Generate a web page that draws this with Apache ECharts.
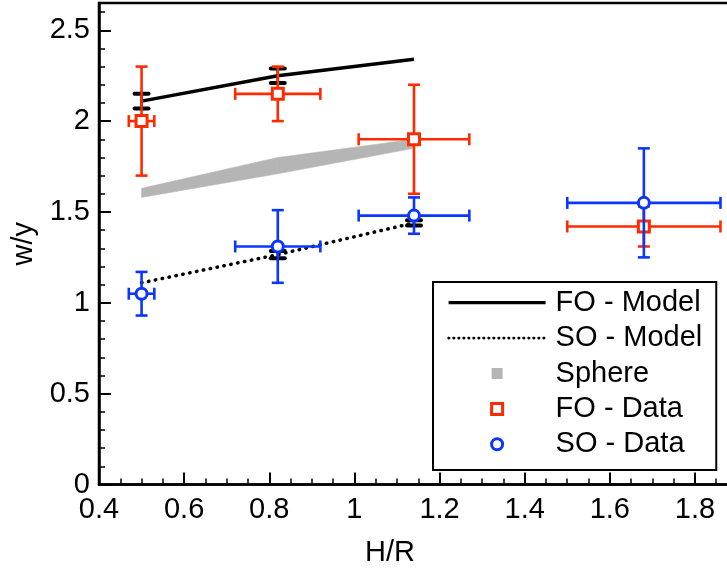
<!DOCTYPE html>
<html>
<head>
<meta charset="utf-8">
<script src="https://cdn.jsdelivr.net/npm/echarts@6/dist/echarts.min.js"></script>
<style>
  html, body { margin: 0; padding: 0; background: #fff; }
  #chart { width: 727px; height: 569px; }
</style>
</head>
<body>
<div id="chart"></div>
<script>
'use strict';
// model curves, sampled at the three H/R values
const hr = [0.5, 0.82, 1.14];
const foModel = [2.11, 2.25, 2.34];
const soModel = [1.11, 1.265, 1.44];
const sphereLo = [1.58, 1.71, 1.85];
const sphereHi = [1.63, 1.80, 1.90];

// small error marks on the model curves
const foModelErrX = [0.5, 0.82];
const foModelErrLo = [2.07, 2.21];
const foModelErrHi = [2.15, 2.29];
const soModelErrX = [0.82, 1.14];
const soModelErrLo = [1.245, 1.425];
const soModelErrHi = [1.285, 1.455];

// measurements
const dataX = [0.5, 0.82, 1.14, 1.68];
const dataXErr = [0.03, 0.1, 0.13, 0.18];
const foData = [2.0, 2.15, 1.9, 1.42];
const foLo = [1.7, 2.0, 1.6, 1.31];
const foHi = [2.3, 2.3, 2.2, 1.53];
const soData = [1.05, 1.31, 1.48, 1.55];
const soLo = [0.93, 1.11, 1.38, 1.25];
const soHi = [1.17, 1.51, 1.58, 1.85];

const xTicks = { min: 0.4, max: 1.88, major: 0.2, minor: 0.05 };
const yTicks = { min: 0, max: 2.65, major: 0.5, minor: 0.1 };

const RED = '#ff2a00';
const BLUE = '#0a36ff';
const GRAY = '#b5b5b5';
const FONT = 'Liberation Sans, Arial, Helvetica, sans-serif';
const FS = 29;

const chart = echarts.init(document.getElementById('chart'));

function errorBars(color) {
  return function (params, api) {
    const x = api.value(0);
    const y = api.value(1);
    const c = api.coord([x, y]);
    const l = api.coord([api.value(2), y]);
    const r = api.coord([api.value(3), y]);
    const lo = api.coord([x, api.value(4)]);
    const hi = api.coord([x, api.value(5)]);
    const w = 6;
    const style = { stroke: color, lineWidth: 2.6 };
    const seg = (x1, y1, x2, y2) => ({ type: 'line', shape: { x1, y1, x2, y2 }, style });
    return {
      type: 'group',
      children: [
        seg(l[0], c[1], r[0], c[1]),
        seg(l[0], c[1] - w, l[0], c[1] + w),
        seg(r[0], c[1] - w, r[0], c[1] + w),
        seg(c[0], lo[1], c[0], hi[1]),
        seg(c[0] - w, lo[1], c[0] + w, lo[1]),
        seg(c[0] - w, hi[1], c[0] + w, hi[1]),
      ],
    };
  };
}

function modelCaps(params, api) {
  const x = api.value(0);
  const lo = api.coord([x, api.value(1)]);
  const hi = api.coord([x, api.value(2)]);
  const w = 7;
  const cap = { stroke: '#000', lineWidth: 4, lineCap: 'round' };
  return {
    type: 'group',
    children: [
      { type: 'line', shape: { x1: lo[0], y1: lo[1], x2: hi[0], y2: hi[1] }, style: { stroke: '#000', lineWidth: 2.5 } },
      { type: 'line', shape: { x1: lo[0] - w, y1: lo[1], x2: lo[0] + w, y2: lo[1] }, style: cap },
      { type: 'line', shape: { x1: hi[0] - w, y1: hi[1], x2: hi[0] + w, y2: hi[1] }, style: cap },
    ],
  };
}

function sphereBand(params, api) {
  const i = params.dataIndex;
  if (i >= hr.length - 1) return null;
  const pts = [
    api.coord([hr[i], sphereHi[i]]),
    api.coord([hr[i + 1], sphereHi[i + 1]]),
    api.coord([hr[i + 1], sphereLo[i + 1]]),
    api.coord([hr[i], sphereLo[i]]),
  ];
  return {
    type: 'polygon',
    shape: { points: pts },
    style: { fill: GRAY, stroke: GRAY, lineWidth: 0.5 },
  };
}

const errRows = (vals, lo, hi) =>
  dataX.map((x, i) => [x, vals[i], x - dataXErr[i], x + dataXErr[i], lo[i], hi[i]]);

const axisCommon = {
  type: 'value',
  splitLine: { show: false },
  axisLine: { show: true, onZero: false, lineStyle: { color: '#000', width: 2.5 } },
  axisTick: { show: true, inside: true, length: 12, lineStyle: { color: '#000', width: 2 } },
  axisLabel: { color: '#000', fontSize: FS, fontFamily: FONT, showMaxLabel: false },
  nameLocation: 'middle',
  nameTextStyle: { color: '#000', fontSize: FS, fontFamily: FONT },
};
const minorAxis = {
  type: 'value',
  splitLine: { show: false },
  axisLine: { show: false },
  axisLabel: { show: false },
  axisTick: { show: true, inside: true, length: 6, lineStyle: { color: '#000', width: 1.5 } },
};

const hideSymbol = { color: 'rgba(0,0,0,0)', borderWidth: 0, opacity: 0 };

const option = {
  animation: false,
  backgroundColor: '#fff',
  grid: {
    left: 99, right: -2, top: 3, bottom: 84.5,
    outerBoundsMode: 'none',
    show: true, borderColor: '#000', borderWidth: 2.5,
  },
  xAxis: [
    Object.assign({}, axisCommon, {
      min: xTicks.min, max: xTicks.max, interval: xTicks.major,
      position: 'bottom', name: 'H/R', nameGap: 54,
      nameTextStyle: Object.assign({}, axisCommon.nameTextStyle, { padding: [0, 48, 0, 0] }),
      axisLabel: Object.assign({}, axisCommon.axisLabel, { margin: 11 }),
    }),
    Object.assign({}, minorAxis, {
      min: xTicks.min, max: xTicks.max, interval: xTicks.minor, position: 'bottom',
    }),
  ],
  yAxis: [
    Object.assign({}, axisCommon, {
      min: yTicks.min, max: yTicks.max, interval: yTicks.major,
      position: 'left', name: 'w/y', nameGap: 58,
      axisLabel: Object.assign({}, axisCommon.axisLabel, { margin: 9 }),
    }),
    Object.assign({}, minorAxis, {
      min: yTicks.min, max: yTicks.max, interval: yTicks.minor, position: 'left', offset: 0,
    }),
  ],
  legend: {
    orient: 'vertical',
    left: 433, top: 282,
    padding: [3, 14, 8, 14],
    backgroundColor: '#fff',
    borderColor: '#000', borderWidth: 2, borderRadius: 0,
    itemWidth: 97, itemHeight: 11, itemGap: 0,
    symbolKeepAspect: true,
    selectedMode: false,
    textStyle: { color: '#000', fontSize: FS, fontFamily: FONT, lineHeight: 35.4, padding: [0, 0, 0, 5] },
    data: [
      { name: 'FO - Model', itemStyle: hideSymbol, lineStyle: { width: 3.2 } },
      { name: 'SO - Model', itemStyle: hideSymbol, lineStyle: { width: 2.6, type: [0.5, 4.5], cap: 'round' } },
      { name: 'Sphere', icon: 'path://M0,0H10V10H0Z', itemStyle: { color: GRAY, borderWidth: 0 } },
      { name: 'FO - Data', icon: 'path://M0,0H10V10H0Z', itemStyle: { color: '#fff', borderColor: RED, borderWidth: 3 } },
      { name: 'SO - Data', icon: 'path://M10,5A5,5,0,1,1,0,5A5,5,0,1,1,10,5Z', itemStyle: { color: '#fff', borderColor: BLUE, borderWidth: 3 } },
    ],
  },
  series: [
    {
      name: 'Sphere', type: 'custom', z: 1,
      renderItem: sphereBand,
      itemStyle: { color: GRAY },
      data: hr.map((x, i) => [x, sphereLo[i], sphereHi[i]]),
    },
    {
      name: 'FO - Model', type: 'line', z: 2, symbol: 'none',
      itemStyle: { color: '#000' },
      lineStyle: { color: '#000', width: 3.5 },
      data: hr.map((x, i) => [x, foModel[i]]),
    },
    {
      name: 'SO - Model', type: 'line', z: 2, symbol: 'none',
      itemStyle: { color: '#000' },
      lineStyle: { color: '#000', width: 3.5, type: [0.5, 6.5], cap: 'round' },
      data: hr.map((x, i) => [x, soModel[i]]),
    },
    {
      type: 'custom', z: 2, renderItem: modelCaps,
      data: foModelErrX.map((x, i) => [x, foModelErrLo[i], foModelErrHi[i]])
        .concat(soModelErrX.map((x, i) => [x, soModelErrLo[i], soModelErrHi[i]])),
    },
    {
      type: 'custom', z: 3, renderItem: errorBars(RED),
      data: errRows(foData, foLo, foHi),
    },
    {
      name: 'FO - Data', type: 'scatter', z: 4,
      symbol: 'rect', symbolSize: 11,
      itemStyle: { color: '#fff', borderColor: RED, borderWidth: 3, opacity: 1 },
      data: dataX.map((x, i) => [x, foData[i]]),
    },
    {
      type: 'custom', z: 5, renderItem: errorBars(BLUE),
      data: errRows(soData, soLo, soHi),
    },
    {
      name: 'SO - Data', type: 'scatter', z: 6,
      symbol: 'circle', symbolSize: 11,
      itemStyle: { color: '#fff', borderColor: BLUE, borderWidth: 3, opacity: 1 },
      data: dataX.map((x, i) => [x, soData[i]]),
    },
  ],
};

chart.setOption(option);
</script>
</body>
</html>
